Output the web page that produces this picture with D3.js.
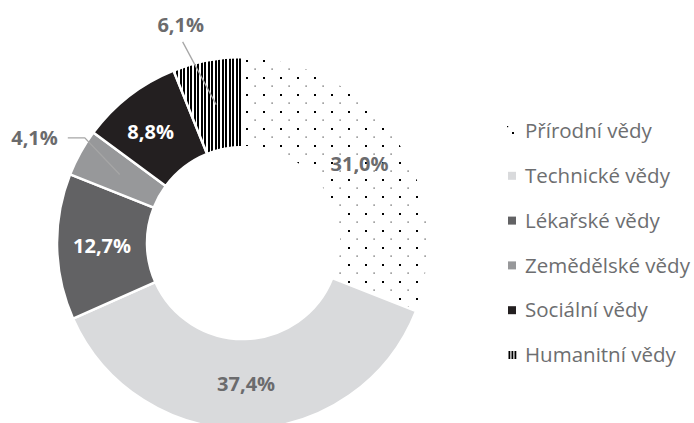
<!DOCTYPE html>
<html>
<head>
<meta charset="utf-8">
<script src="https://cdn.jsdelivr.net/npm/d3@7"></script>
<style>
  body { margin: 0; background: #fff; }
  svg { display: block; font-family: "Open Sans", sans-serif; }
</style>
</head>
<body>
<svg width="694" height="423"></svg>
<script>
const categories = ["Přírodní vědy", "Technické vědy", "Lékařské vědy", "Zemědělské vědy", "Sociální vědy", "Humanitní vědy"];
const shares = [31.0, 37.4, 12.7, 4.1, 8.8, 6.1];
const fills = ["url(#dots)", "#d9dadc", "#626264", "#97989a", "#231f20", "url(#stripes)"];
const labelColors = ["#6b6b6d", "#6b6b6d", "#ffffff", "#6b6b6d", "#ffffff", "#6b6b6d"];

const svg = d3.select("svg");
const cx = 243, cy = 243;
const outerR = 186, innerR = 96;

// patterns
const defs = svg.append("defs");
const dots = defs.append("pattern")
  .attr("id", "dots")
  .attr("patternUnits", "userSpaceOnUse")
  .attr("width", 17).attr("height", 17);
dots.append("rect").attr("width", 17).attr("height", 17).attr("fill", "#fff");
dots.append("rect").attr("x", 3).attr("y", 4).attr("width", 2).attr("height", 2).attr("fill", "#000");
dots.append("rect").attr("x", 11.5).attr("y", 12.5).attr("width", 1.2).attr("height", 1.2).attr("fill", "#444");

const stripes = defs.append("pattern")
  .attr("id", "stripes")
  .attr("patternUnits", "userSpaceOnUse")
  .attr("width", 7).attr("height", 10);
stripes.append("rect").attr("width", 7).attr("height", 10).attr("fill", "#fff");
stripes.append("rect").attr("x", 0).attr("width", 2).attr("height", 10).attr("fill", "#000");
stripes.append("rect").attr("x", 3).attr("width", 2).attr("height", 10).attr("fill", "#000");

const pie = d3.pie().sort(null).value(d => d).startAngle(0).endAngle(2 * Math.PI);
const arcs = pie(shares);
const arc = d3.arc().innerRadius(innerR).outerRadius(outerR);
const labelArc = d3.arc().innerRadius((innerR + outerR) / 2).outerRadius((innerR + outerR) / 2);

const g = svg.append("g").attr("transform", `translate(${cx},${cy})`);

g.selectAll("path.slice")
  .data(arcs)
  .enter()
  .append("path")
  .attr("class", "slice")
  .attr("d", arc)
  .attr("fill", (d, i) => fills[i])
  .attr("stroke", "#fff")
  .attr("stroke-width", 2.5);

const fmt = v => d3.format(".1f")(v).replace(".", ",") + "%";
const polar = (a, r) => [Math.sin(a) * r, -Math.cos(a) * r];

// which labels sit outside the ring
const outside = { 3: "left", 5: "top" };

arcs.forEach((d, i) => {
  const c = labelArc.centroid(d);
  const mid = (d.startAngle + d.endAngle) / 2;
  if (outside[i] === "left") {
    const elbow = polar(mid + 0.08, 190);
    const end = [elbow[0] - 17, elbow[1]];
    g.append("polyline")
      .attr("points", [c, elbow, end].map(p => p.join(",")).join(" "))
      .attr("fill", "none").attr("stroke", "#a6a6a6").attr("stroke-width", 1.3);
    g.append("text")
      .attr("x", end[0] - 10).attr("y", end[1])
      .attr("dy", "0.35em")
      .attr("text-anchor", "end")
      .attr("font-size", 20).attr("font-weight", 700)
      .attr("fill", labelColors[i])
      .text(fmt(shares[i]));
  } else if (outside[i] === "top") {
    const end = polar(mid - 0.1, 210);
    g.append("line")
      .attr("x1", c[0]).attr("y1", c[1])
      .attr("x2", end[0]).attr("y2", end[1])
      .attr("stroke", "#a6a6a6").attr("stroke-width", 1.3);
    g.append("text")
      .attr("x", end[0] - 2).attr("y", end[1] - 10)
      .attr("text-anchor", "middle")
      .attr("font-size", 20).attr("font-weight", 700)
      .attr("fill", labelColors[i])
      .text(fmt(shares[i]));
  } else {
    const dx = i === 4 ? -6 : 0;
    g.append("text")
      .attr("x", c[0] + dx).attr("y", c[1])
      .attr("dy", "0.35em")
      .attr("text-anchor", "middle")
      .attr("font-size", 20).attr("font-weight", 700)
      .attr("fill", labelColors[i])
      .text(fmt(shares[i]));
  }
});

// legend
const legendY = d3.scalePoint().domain(categories).range([131, 355]);
const legend = svg.append("g");
const items = legend.selectAll("g.item")
  .data(categories)
  .enter()
  .append("g")
  .attr("class", "item")
  .attr("transform", d => `translate(508,${legendY(d)})`);

items.append("rect")
  .attr("x", 0).attr("y", -4)
  .attr("width", 8).attr("height", 8)
  .attr("fill", (d, i) => i === 0 ? "#fff" : (i === 5 ? "#fff" : fills[i]));

// pattern-like legend markers
items.filter((d, i) => i === 0).each(function () {
  const s = d3.select(this);
  s.append("rect").attr("x", -1).attr("y", -5).attr("width", 1.2).attr("height", 1.2).attr("fill", "#000");
  s.append("rect").attr("x", 4).attr("y", 1).attr("width", 2).attr("height", 2).attr("fill", "#000");
});
items.filter((d, i) => i === 5).each(function () {
  const s = d3.select(this);
  d3.range(3).forEach(k => s.append("rect").attr("x", 0.5 + k * 3).attr("y", -4).attr("width", 1.8).attr("height", 8).attr("fill", "#000"));
});

items.append("text")
  .attr("x", 17).attr("y", 0)
  .attr("dy", "0.35em")
  .attr("font-size", 20.5)
  .attr("fill", "#6d6e70")
  .text(d => d);
</script>
</body>
</html>
